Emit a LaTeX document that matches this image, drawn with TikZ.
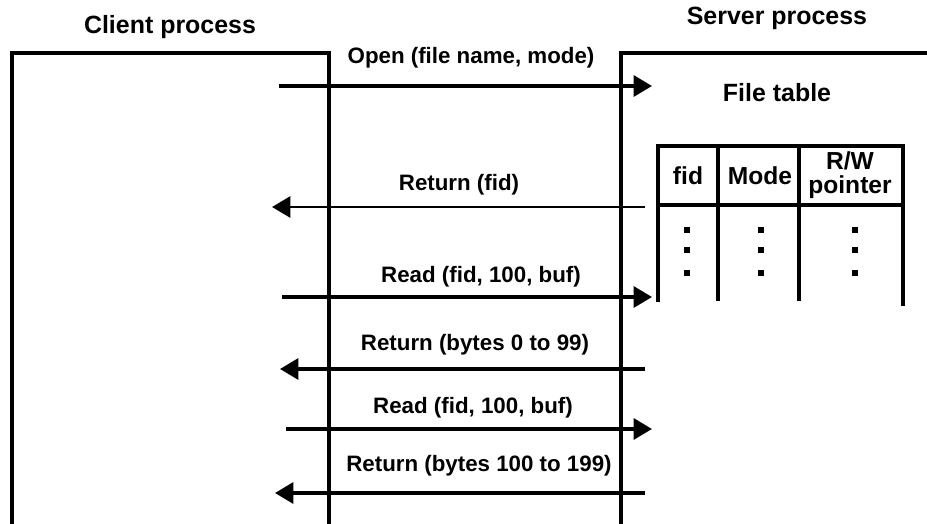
\documentclass[tikz,border=0pt]{standalone}
\usepackage{fontspec}
\setmainfont{Liberation Sans}
\usetikzlibrary{arrows.meta, positioning}

\begin{document}
\begin{tikzpicture}[x=0.02cm, y=-0.02cm,
  wall/.style={line width=2.2pt},
  msg/.style={line width=1.9pt, -{Triangle[length=10.5pt, width=12pt]}},
  lbl/.style={font=\bfseries\fontsize{12.7}{14}\selectfont, inner sep=0pt},
  ttl/.style={font=\bfseries\fontsize{14.2}{16}\selectfont, inner sep=0pt},
  hdr/.style={font=\bfseries\fontsize{14}{13.6}\selectfont, inner sep=0pt, align=center},
  rule/.style={line width=2.4pt}
]
  \useasboundingbox (0,0) rectangle (927,524);

  % Process titles
  \node[ttl] (client) at (170,27) {Client process};
  \node[ttl] (server) at (777,18) {Server process};

  % Process boxes (open at the bottom)
  \draw[wall] (12,524) -- (12,53) -- (329,53) -- (329,524);
  \draw[wall] (621,524) -- (621,53) -- (927,53);

  % Message end points
  \coordinate (openC)  at (279,86);  \coordinate (openS)  at (652,86);
  \coordinate (retaS)  at (645,207); \coordinate (retaC)  at (272,207);
  \coordinate (readaC) at (282,297); \coordinate (readaS) at (652,297);
  \coordinate (retbS)  at (645,369); \coordinate (retbC)  at (280,369);
  \coordinate (readbC) at (286,429); \coordinate (readbS) at (652,429);
  \coordinate (retcS)  at (645,493); \coordinate (retcC)  at (275,493);

  % Messages
  \draw[msg] (openC) -- (openS);
  \node[lbl] (openL) at (471,58) {Open (file name, mode)};
  \draw[msg, line width=1.7pt] (retaS) -- (retaC);
  \node[lbl] (retaL) at (459,185) {Return (fid)};
  \draw[msg] (readaC) -- (readaS);
  \node[lbl] (readaL) at (481,277) {Read (fid, 100, buf)};
  \draw[msg] (retbS) -- (retbC);
  \node[lbl] (retbL) at (475,345) {Return (bytes 0 to 99)};
  \draw[msg] (readbC) -- (readbS);
  \node[lbl] (readbL) at (473,408) {Read (fid, 100, buf)};
  \draw[msg] (retcS) -- (retcC);
  \node[lbl] (retcL) at (479,466) {Return (bytes 100 to 199)};

  % File table
  \node[ttl] (ftab) at (777,93) {File table};
  \draw[rule] (658,302) -- (658,146) -- (903,146) -- (903,306);
  \draw[rule] (658,205) -- (903,205);
  \draw[rule] (718,146) -- (718,301);
  \draw[rule] (799,146) -- (799,301);
  \node[hdr] (fid)  at (688,176) {fid};
  \node[hdr] (mode) at (760,176) {Mode};
  \node[hdr] (rw)   at (850,175) {R/W\\pointer};
  \foreach \x in {687,761,855}
    \foreach \y in {230,250,273}
      \fill (\x-3,\y-3) rectangle (\x+3,\y+3);
\end{tikzpicture}
\end{document}
